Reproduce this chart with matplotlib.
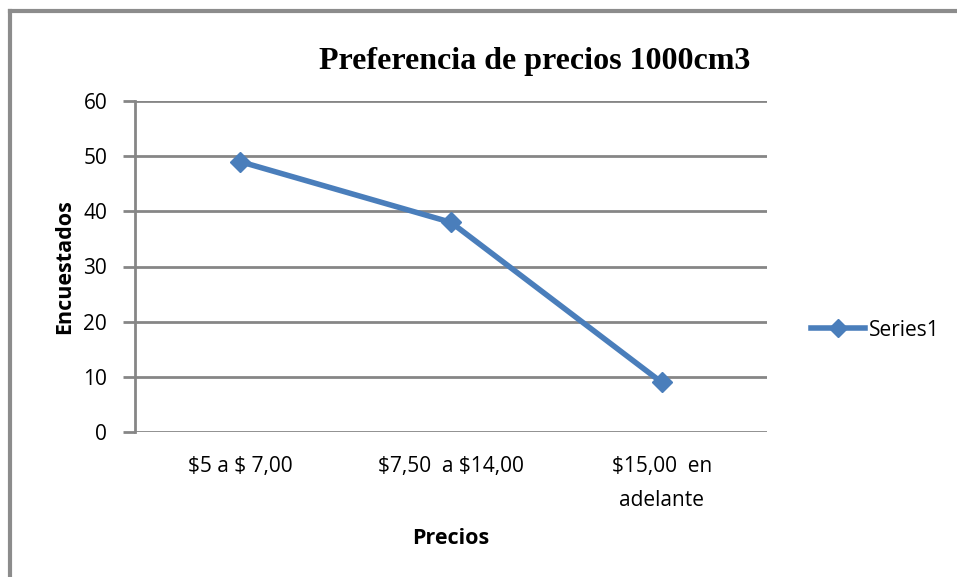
import matplotlib.pyplot as plt
from matplotlib.lines import Line2D

categorias = ["\\$5 a \\$ 7,00", "\\$7,50  a \\$14,00", "\\$15,00  en\nadelante"]
encuestados = [49, 38, 9]
serie = "Series1"
titulo = "Preferencia de precios 1000cm3"

azul = "#4a7ebb"
gris = "#868686"

fig = plt.figure(figsize=(9.57, 5.77), dpi=100)
ax = fig.add_axes([135 / 957, 1 - 432 / 577, 632 / 957, 331 / 577])

x = range(len(categorias))
ax.plot(x, encuestados, color=azul, lw=4, marker="D", ms=10,
        markeredgecolor=azul, label=serie)

ax.set_xlim(-0.5, len(categorias) - 0.5)
ax.set_ylim(0, 60)
ax.set_yticks(range(0, 61, 10))
ax.set_xticks(list(x))
ax.set_xticklabels(categorias, fontsize=15, family="Open Sans", linespacing=1.85)
for t in ax.get_yticklabels():
    t.set_fontsize(15)
    t.set_family("Open Sans")
ax.tick_params(axis="y", length=9, color=gris, width=2, pad=11)
ax.tick_params(axis="x", length=0, pad=17)
ax.grid(axis="y", color=gris, lw=2)
ax.set_axisbelow(True)
for s in ["top", "right", "bottom"]:
    ax.spines[s].set_visible(False)
ax.spines["left"].set_color(gris)
ax.spines["left"].set_linewidth(2)

ax.set_xlabel("Precios", fontsize=15.5, fontweight="bold", family="Open Sans", labelpad=12)
ax.set_ylabel("Encuestados", fontsize=15.5, fontweight="bold", family="Open Sans", labelpad=6)

fig.text(535 / 957, 1 - 62 / 577, titulo, ha="center", va="center",
         fontsize=23, fontweight="bold", family="Liberation Serif")

# leyenda a la derecha
h = Line2D([], [], color=azul, lw=4, marker="D", ms=9, markeredgecolor=azul)
fig.legend([h], [serie], loc="center left", bbox_to_anchor=(792 / 957, 1 - 330 / 577),
           frameon=False, prop={"family": "Open Sans", "size": 15},
           handlelength=2.6, handletextpad=0.2)

# marco gris (solo borde izquierdo y superior visibles)
fig.add_artist(Line2D([10 / 957, 10 / 957], [0, 1 - 11 / 577], transform=fig.transFigure,
                      color="#8c8c8c", lw=3))
fig.add_artist(Line2D([10 / 957, 1], [1 - 11 / 577, 1 - 11 / 577], transform=fig.transFigure,
                      color="#8c8c8c", lw=3))

fig.savefig("out.png", dpi=100)
